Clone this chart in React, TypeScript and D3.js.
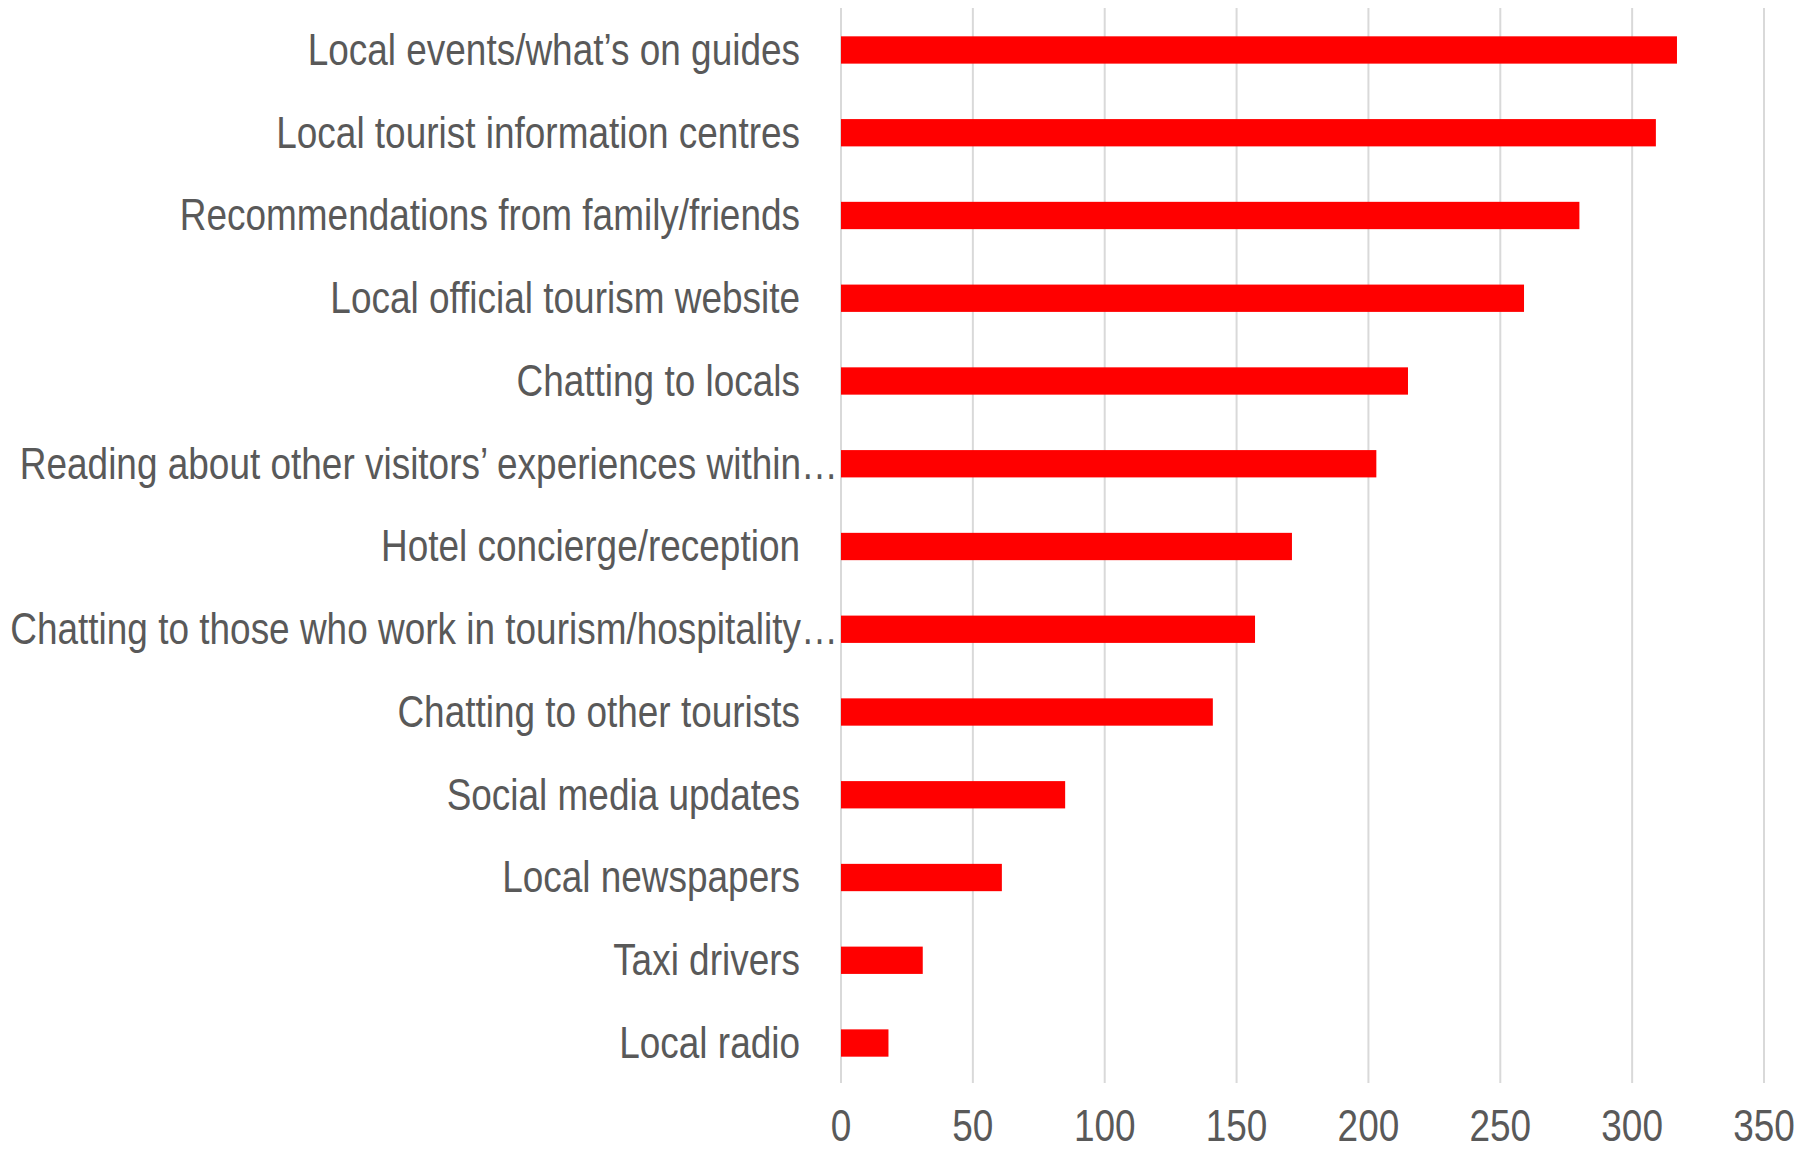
import React from "react";
import * as d3 from "d3";

const categories: string[] = [
  "Local events/what\u2019s on guides",
  "Local tourist information centres",
  "Recommendations from family/friends",
  "Local official tourism website",
  "Chatting to locals",
  "Reading about other visitors\u2019 experiences within\u2026",
  "Hotel concierge/reception",
  "Chatting to those who work in tourism/hospitality\u2026",
  "Chatting to other tourists",
  "Social media updates",
  "Local newspapers",
  "Taxi drivers",
  "Local radio",
];

const values: number[] = [317, 309, 280, 259, 215, 203, 171, 157, 141, 85, 61, 31, 18];

const xTicks: number[] = [0, 50, 100, 150, 200, 250, 300, 350];

const W = 1813;
const H = 1150;
const FONT = "'Liberation Sans', Arial, sans-serif";
const TEXT = "#595959";
const NARROW = 0.84;

export default function App() {
  const x = d3.scaleLinear().domain([0, 350]).range([841, 1764]);
  const y = d3
    .scaleBand<string>()
    .domain(categories)
    .range([8.6, 1084.4])
    .paddingInner(0.67)
    .paddingOuter(0.335);

  return (
    <svg
      width={W}
      height={H}
      style={{ position: "absolute", left: 0, top: 0, background: "#fff" }}
    >
      <rect x={0} y={0} width={W} height={H} fill="#fff" />
      {xTicks.map((t) => (
        <line
          key={"g" + t}
          x1={x(t)}
          x2={x(t)}
          y1={8}
          y2={1083}
          stroke="#d9d9d9"
          strokeWidth={2}
        />
      ))}
      {categories.map((c, i) => {
        const yc = (y(c) as number) + y.bandwidth() / 2;
        const truncated = c.endsWith("\u2026");
        const tx = truncated ? 838 : 800;
        return (
          <g key={c}>
            <rect
              x={x(0)}
              y={y(c)}
              width={x(values[i]) - x(0)}
              height={y.bandwidth()}
              fill="#ff0000"
            />
            <g transform={`translate(${tx},${yc}) scale(${NARROW},1)`}>
              <text
                x={0}
                y={0}
                dy="0.34em"
                textAnchor="end"
                fontFamily={FONT}
                fontSize={44}
                fill={TEXT}
              >
                {c}
              </text>
            </g>
          </g>
        );
      })}
      {xTicks.map((t) => (
        <g key={"t" + t} transform={`translate(${x(t)},1141) scale(${NARROW},1)`}>
          <text
            x={0}
            y={0}
            textAnchor="middle"
            fontFamily={FONT}
            fontSize={44}
            fill={TEXT}
          >
            {t}
          </text>
        </g>
      ))}
    </svg>
  );
}
